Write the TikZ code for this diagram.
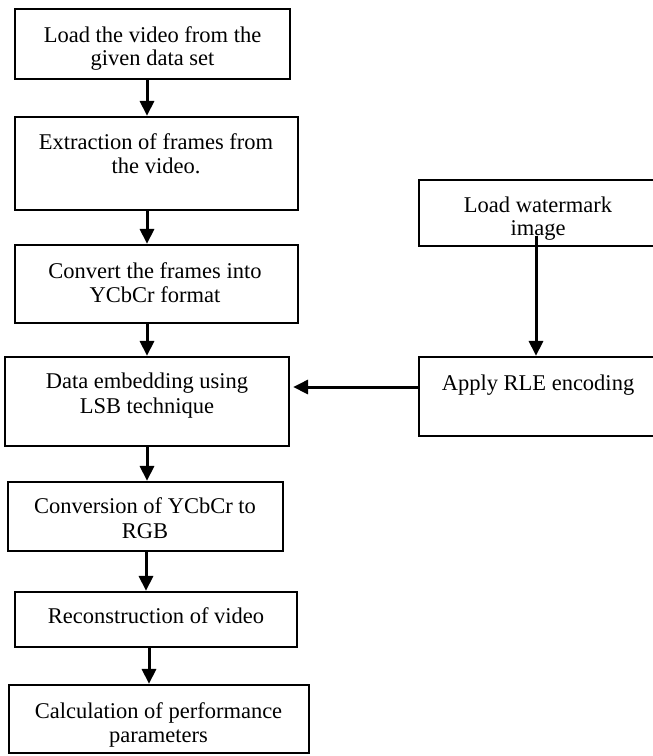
\documentclass[tikz,border=0pt]{standalone}
\usepackage{fontspec}
\setmainfont{Liberation Serif}
\usetikzlibrary{arrows.meta,calc}
\begin{document}
\begin{tikzpicture}[x=1pt,y=-1pt,
  box/.style={draw=black,line width=2.2pt,inner sep=0pt,rectangle},
  txt/.style={font=\fontsize{22.5}{24}\selectfont,anchor=base,inner sep=0pt},
  arr/.style={line width=3pt,-{Triangle[length=15pt,width=14pt]}}]
\useasboundingbox (0,0) rectangle (653,756);
\clip (0,0) rectangle (653,756);
\coordinate (sp1) at (147,0);
\coordinate (sp2) at (146,0);
\coordinate (sp3) at (149,0);
\coordinate (sq) at (536,0);
\coordinate (ah) at (0,387);
% boxes
\node[box,minimum width=275pt,minimum height=70pt] (b1) at (152.5,44) {};
\node[box,minimum width=283pt,minimum height=93pt] (b2) at (156.5,163.5) {};
\node[box,minimum width=283pt,minimum height=78pt] (b3) at (156.5,284) {};
\node[box,minimum width=284pt,minimum height=89pt] (b4) at (147,401.5) {};
\node[box,minimum width=275pt,minimum height=69pt] (b5) at (145.5,516.5) {};
\node[box,minimum width=282pt,minimum height=55pt] (b6) at (156,619.5) {};
\node[box,minimum width=300pt,minimum height=68pt] (b7) at (159,719) {};
\node[box,minimum width=246pt,minimum height=66pt] (wm) at (542,213) {};
\node[box,minimum width=246pt,minimum height=79pt] (rle) at (542,396.5) {};
% texts
\node[txt] (t1a) at (152.5,42) {Load the video from the};
\node[txt] (t1b) at (152.5,65) {given data set};
\node[txt] (t2a) at (156,149) {Extraction of frames from};
\node[txt] (t2b) at (156,173) {the video.};
\node[txt] (t3a) at (155,278) {Convert the frames into};
\node[txt] (t3b) at (155,302) {YCbCr format};
\node[txt] (t4a) at (147,388) {Data embedding using};
\node[txt] (t4b) at (147,413) {LSB technique};
\node[txt] (t5a) at (145,513) {Conversion of YCbCr to};
\node[txt] (t5b) at (145,538) {RGB};
\node[txt] (t6a) at (156,623) {Reconstruction of video};
\node[txt] (t7a) at (158.5,718) {Calculation of performance};
\node[txt] (t7b) at (158.5,742) {parameters};
\node[txt] (twa) at (538,212) {Load watermark};
\node[txt] (twb) at (538,235) {image};
\node[txt] (tra) at (538,390) {Apply RLE encoding};
% connectors
\draw[arr] (b1.south -| sp1) -- (b2.north -| sp1);
\draw[arr] (b2.south -| sp1) -- (b3.north -| sp1);
\draw[arr] (b3.south -| sp1) -- (b4.north -| sp1);
\draw[arr] (b4.south -| sp1) -- (b5.north -| sp1);
\draw[arr] (b5.south -| sp2) -- (b6.north -| sp2);
\draw[arr] (b6.south -| sp3) -- (b7.north -| sp3);
\draw[arr] ($(wm.south -| sq)+(0,-11)$) -- (rle.north -| sq);
\draw[arr] (rle.west |- ah) -- ([xshift=3pt]b4.east |- ah);
\end{tikzpicture}
\end{document}
